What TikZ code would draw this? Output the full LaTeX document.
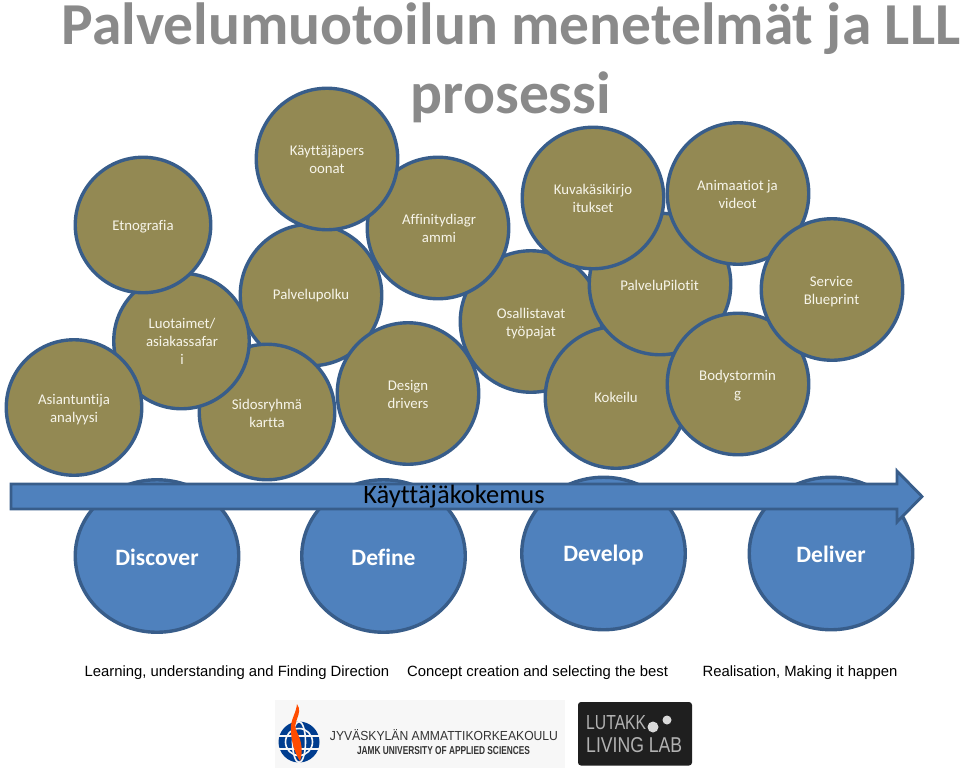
\documentclass[tikz,border=0pt]{standalone}
\usepackage{fontspec}
\setmainfont{Carlito}[Ligatures=NoCommon]
\newfontfamily\arialf{Liberation Sans}
\usetikzlibrary{shapes.geometric}
\definecolor{goldf}{HTML}{938953}
\definecolor{edgeb}{HTML}{385D8A}
\definecolor{bluef}{HTML}{4F81BD}
\definecolor{titleg}{HTML}{8A8A8A}
\definecolor{creamt}{HTML}{F7F5EA}
\tikzset{
  goldc/.style={circle,draw=edgeb,fill=goldf,line width=3.4pt,minimum size=#1,inner sep=0pt},
  goldc/.default=141.5pt,
  lab/.style={text=creamt,font=\fontsize{14.8}{18}\selectfont,align=center,inner sep=0pt},
  bluec/.style={ellipse,draw=edgeb,fill=bluef,line width=3.4pt,minimum width=163.5pt,minimum height=152.5pt,inner sep=0pt},
  blab/.style={text=white,font=\fontsize{23.5}{27}\selectfont\bfseries,inner sep=0pt},
  ttl/.style={text=titleg,font=\fontsize{59.5}{62}\selectfont\bfseries,inner sep=0pt,anchor=base},
  foot/.style={font=\arialf\fontsize{14.85}{18}\selectfont,inner sep=0pt,text=black},
}
\begin{document}
\begin{tikzpicture}[x=1pt,y=-1pt]
\useasboundingbox (0,0) rectangle (960,769);
% title
\node[ttl] (t1) at (511,44) {Palvelumuotoilun menetelmät ja LLL};
\node[ttl] (t2) at (511,113) {prosessi};
% gold circles, back to front
\node[goldc] (osal) at (531,321.5) {};
\node[goldc] (affi) at (438,228) {};
\node[goldc] (polk) at (311,295) {};
\node[goldc=135.5pt] (sido) at (267,412) {};
\node[goldc=135.5pt] (luot) at (181.5,341) {};
\node[goldc=135.5pt] (etno) at (143,225) {};
\node[goldc=135.5pt] (asia) at (74,407.5) {};
\node[goldc] (desi) at (408,393.5) {};
\node[goldc] (kayt) at (327,159) {};
\node[goldc] (koke) at (616,397.5) {};
\node[goldc] (pilo) at (660,284) {};
\node[goldc] (body) at (738,384) {};
\node[goldc] (anim) at (738,193.5) {};
\node[goldc] (kuva) at (593,198) {};
\node[goldc] (serv) at (832,289.5) {};
% gold labels
\node[lab] at (143,227) {Etnografia};
\node[lab] at (327,159) {Käyttäjäpers\\oonat};
\node[lab] at (439,228) {Affinitydiagr\\ammi};
\node[lab] at (311,296) {Palvelupolku};
\node[lab] at (182,341) {Luotaimet/\\asiakassafar\\i};
\node[lab] at (74,410) {Asiantuntija\\analyysi};
\node[lab] at (267,413) {Sidosryhmä\\kartta};
\node[lab] at (408,394) {Design\\drivers};
\node[lab] at (531,324) {Osallistavat\\työpajat};
\node[lab] at (616,397) {Kokeilu};
\node[lab] at (659.5,285) {PalveluPilotit};
\node[lab] at (737.5,386) {Bodystormin\\g};
\node[lab] at (593,198.5) {Kuvakäsikirjo\\itukset};
\node[lab] at (737.5,194) {Animaatiot ja\\videot};
\node[lab] at (831.5,292) {Service\\Blueprint};
% blue circles
\node[bluec] (disc) at (157,556) {};
\node[bluec] (defi) at (383.5,556) {};
\node[bluec] (deve) at (603.5,553.5) {};
\node[bluec] (deli) at (831,553.5) {};
\node[blab] at (157,557) {Discover};
\node[blab] at (383.5,557) {Define};
\node[blab] at (603.5,555) {Develop};
\node[blab] at (831,554) {Deliver};
% arrow
\draw[draw=edgeb,fill=bluef,line width=2.8pt,line join=miter] (11,484) -- (897,484) -- (897,471) -- (922,496.5) -- (897,522) -- (897,509) -- (11,509) -- cycle;
\node[inner sep=0pt,text=black,font=\fontsize{26.5}{30}\selectfont] (kk) at (454,496.5) {Käyttäjäkokemus};
% footer
\node[foot] at (237,672.5) {Learning, understanding and Finding Direction};
\node[foot] at (537.5,672.5) {Concept creation and selecting the best};
\node[foot] at (800,672.5) {Realisation, Making it happen};
% JAMK logo
\fill[gray!6] (275,700) rectangle (565,768);
\fill[teal!60!blue!80!black] (299,742) circle (20.5);
\draw[gray!6,line width=1.6pt] (299,742) circle (13.5);
\draw[gray!6,line width=1.6pt] (299,742) ellipse (6.5 and 20.5);
\draw[gray!6,line width=1.6pt] (279,736) -- (319,736) (279,749) -- (319,749);
\fill[orange!60!red] (297,704) .. controls (304,714) and (291,722) .. (297,732) .. controls (302,742) and (303,752) .. (300,761) .. controls (294,752) and (291,740) .. (291,730) .. controls (290,720) and (296,714) .. (297,704) -- cycle;
\node[inner sep=0pt,text=black!80] (j1) at (444,735) {\resizebox{228pt}{11pt}{\arialf JYVÄSKYLÄN AMMATTIKORKEAKOULU}};
\node[inner sep=0pt,text=black!80] (j2) at (443.5,751) {\resizebox{173pt}{8pt}{\arialf\bfseries JAMK UNIVERSITY OF APPLIED SCIENCES}};
% Lutakko logo
\fill[black!88,rounded corners=3pt] (578,702) rectangle (692,765.5);
\node[inner sep=0pt,text=black!30,anchor=west] (l1) at (586,723) {\resizebox{60pt}{14pt}{\arialf LUTAKK}};
\fill[black!15] (653,727) circle (5.5);
\fill[black!15] (667,720) circle (4.5);
\node[inner sep=0pt,text=black!30,anchor=west] (l2) at (586,745) {\resizebox{96pt}{15pt}{\arialf LIVING LAB}};
\end{tikzpicture}
\end{document}
